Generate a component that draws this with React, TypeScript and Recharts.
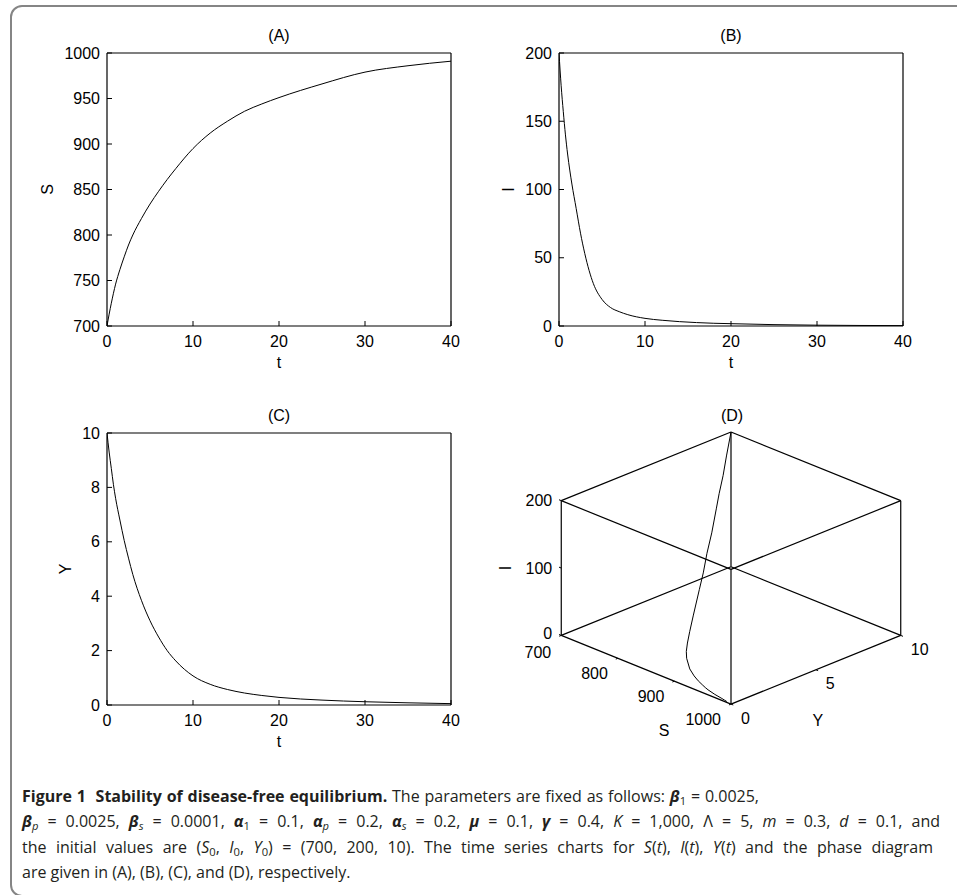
import React from "react";
import { LineChart, Line, XAxis, YAxis, ComposedChart, Scatter } from "recharts";

// time samples shared by the three time series
const tValues = [0, 0.25, 0.5, 0.75, 1, 1.5, 2, 2.5, 3, 4, 5, 6, 7, 8, 10, 12, 14, 16, 18, 20, 25, 30, 35, 40];
const sValues = [700, 713, 725, 736, 746, 762, 776, 789, 800, 818, 834, 848, 861, 873, 895, 912, 925, 936, 944, 951, 966, 979, 986, 991];
const iValues = [200, 176, 157, 140, 126, 104, 86, 68, 53, 31, 19.5, 13.5, 10.5, 8.3, 5.6, 4.2, 3.2, 2.5, 2, 1.7, 1, 0.6, 0.4, 0.3];
const yValues = [10, 9.3, 8.7, 8.1, 7.6, 6.8, 6.05, 5.4, 4.8, 3.85, 3.1, 2.5, 2.0, 1.62, 1.07, 0.76, 0.57, 0.44, 0.35, 0.28, 0.18, 0.12, 0.08, 0.05];

const tTicks = [0, 10, 20, 30, 40];
const sTicks = [700, 750, 800, 850, 900, 950, 1000];
const iTicks = [0, 50, 100, 150, 200];
const yTicks = [0, 2, 4, 6, 8, 10];

// phase diagram (D)
const sLimits = [700, 1000];
const yLimits = [0, 10];
const iLimits = [0, 200];
const sBoxTicks = [700, 800, 900, 1000];
const yBoxTicks = [0, 5, 10];
const iBoxTicks = [0, 100, 200];

const FONT = "'Liberation Sans', Arial, Helvetica, sans-serif";
const FS = 16;

// oblique view of the S-Y-I box
const SLOPE = 0.4;
const RISE = 0.785;
function project(s: number, i: number, y: number) {
  const sn = (s - sLimits[0]) / (sLimits[1] - sLimits[0]);
  const yn = (y - yLimits[0]) / (yLimits[1] - yLimits[0]);
  const inn = (i - iLimits[0]) / (iLimits[1] - iLimits[0]);
  return { u: sn + yn, v: SLOPE * (yn - sn) + RISE * inn };
}

function yTitle(text: string, gap: number) {
  return (props: any) => {
    const vb = props.viewBox;
    const cx = vb.x + vb.width - gap;
    const cy = vb.y + vb.height / 2;
    return (
      <text
        x={cx}
        y={cy}
        transform={`rotate(-90 ${cx} ${cy})`}
        textAnchor="middle"
        dominantBaseline="central"
        fontSize={FS}
        fontFamily={FONT}
        fill="#000"
      >
        {text}
      </text>
    );
  };
}

function TimePanel({ left, top, width, height, plot, values, domain, ticks, title, name, nameGap }: any) {
  const rows = tValues.map((t, k) => ({ t, v: values[k] }));
  const margin = {
    top: plot.y - top - 1,
    left: plot.x - left - 60,
    right: left + width - plot.x - plot.w - 1,
    bottom: top + height - plot.y - plot.h - 44,
  };
  const axisLine = { stroke: "#000", strokeWidth: 1.2 };
  const tickLine = { stroke: "#000", strokeWidth: 1 };
  const tick = { fill: "#000", fontSize: FS, fontFamily: FONT };

  return (
    <div style={{ position: "absolute", left, top }}>
      <LineChart width={width} height={height} data={rows} margin={margin}>
        <XAxis
          xAxisId="b"
          dataKey="t"
          type="number"
          domain={[0, 40]}
          ticks={tTicks}
          interval={0}
          allowDataOverflow
          height={44}
          axisLine={axisLine}
          tickLine={tickLine}
          tickSize={-5}
          tickMargin={15}
          tick={tick}
          label={{ value: "t", position: "insideBottom", offset: 2, fill: "#000", fontSize: FS, fontFamily: FONT }}
        />
        <XAxis
          xAxisId="top"
          orientation="top"
          dataKey="t"
          type="number"
          domain={[0, 40]}
          ticks={tTicks}
          interval={0}
          allowDataOverflow
          height={1}
          axisLine={axisLine}
          tickLine={tickLine}
          tickSize={-5}
          tick={false}
          label={{ value: title, position: "top", offset: 11, fill: "#000", fontSize: FS, fontFamily: FONT }}
        />
        <YAxis
          yAxisId="l"
          type="number"
          domain={domain}
          ticks={ticks}
          interval={0}
          allowDataOverflow
          width={60}
          axisLine={axisLine}
          tickLine={tickLine}
          tickSize={-5}
          tickMargin={12}
          tick={tick}
          label={{ content: yTitle(name, nameGap) }}
        />
        <YAxis
          yAxisId="r"
          orientation="right"
          type="number"
          domain={domain}
          ticks={ticks}
          interval={0}
          allowDataOverflow
          width={1}
          axisLine={axisLine}
          tickLine={tickLine}
          tickSize={-5}
          tick={false}
        />
        <Line
          xAxisId="top"
          yAxisId="r"
          dataKey="v"
          type="monotone"
          dot={false}
          stroke="none"
          isAnimationActive={false}
        />
        <Line
          xAxisId="b"
          yAxisId="l"
          dataKey="v"
          type="monotone"
          dot={false}
          stroke="#000"
          strokeWidth={1}
          isAnimationActive={false}
        />
      </LineChart>
    </div>
  );
}

function textShape(anchor: string, rotate = false) {
  return (p: any) => {
    const x = p.cx + p.payload.dx;
    const y = p.cy + p.payload.dy;
    return (
      <text
        x={x}
        y={y}
        textAnchor={anchor}
        dominantBaseline="central"
        fontSize={FS}
        fontFamily={FONT}
        fill="#000"
        transform={rotate ? `rotate(-90 ${x} ${y})` : undefined}
      >
        {p.payload.label}
      </text>
    );
  };
}

function PhasePanel() {
  const curve = tValues.map((_, k) => project(sValues[k], iValues[k], yValues[k]));

  const corners: number[][] = [];
  sLimits.forEach((s) => yLimits.forEach((y) => iLimits.forEach((i) => corners.push([s, y, i]))));
  const edges: any[] = [];
  corners.forEach((a, m) =>
    corners.forEach((b, n) => {
      if (n <= m) return;
      const diff = a.filter((val, k) => val !== b[k]).length;
      if (diff === 1) edges.push([project(a[0], a[2], a[1]), project(b[0], b[2], b[1])]);
    })
  );

  const tickMarks: any[] = [
    ...sBoxTicks.map((s) => [project(s, 0, yLimits[0]), project(s, 0, yLimits[0] - 0.12)]),
    ...yBoxTicks.map((y) => [project(sLimits[1], 0, y), project(sLimits[1] + 4, 0, y)]),
    ...iBoxTicks.map((i) => [project(sLimits[0], i, yLimits[0]), project(sLimits[0] - 4, i, yLimits[0])]),
  ];

  const sLabels = sBoxTicks.map((s, k) => ({
    ...project(s, 0, yLimits[0]),
    label: String(s),
    dx: -10,
    dy: k === 0 ? 17 : 15,
  }));
  const yLabels = yBoxTicks.map((y) => ({ ...project(sLimits[1], 0, y), label: String(y), dx: 10, dy: 14 }));
  const iLabels = iBoxTicks.map((i, k) => ({
    ...project(sLimits[0], i, yLimits[0]),
    label: String(i),
    dx: -9,
    dy: k === 0 ? -2 : 0,
  }));
  const titles = [
    { ...project(850, 0, 0), label: "S", dx: 18, dy: 61 },
    { ...project(1000, 0, 5), label: "Y", dx: 2, dy: 51 },
    { ...project(700, 200, 10), label: "(D)", dx: 1, dy: -17 },
  ];
  const iTitle = [{ ...project(700, 100, 0), label: "I", dx: -56, dy: 0 }];

  return (
    <div style={{ position: "absolute", left: 480, top: 400 }}>
      <ComposedChart width={477} height={360} margin={{ top: 32, left: 79, right: 54, bottom: 55 }}>
        <XAxis dataKey="u" type="number" domain={[0, 2]} hide />
        <YAxis dataKey="v" type="number" domain={[-SLOPE, SLOPE + RISE]} hide />
        {edges.map((e, k) => (
          <Line
            key={`e${k}`}
            data={e}
            dataKey="v"
            type="linear"
            dot={false}
            stroke="#000"
            strokeWidth={1.2}
            isAnimationActive={false}
          />
        ))}
        {tickMarks.map((e, k) => (
          <Line
            key={`k${k}`}
            data={e}
            dataKey="v"
            type="linear"
            dot={false}
            stroke="#000"
            strokeWidth={1}
            isAnimationActive={false}
          />
        ))}
        <Line data={curve} dataKey="v" type="linear" dot={false} stroke="#000" strokeWidth={1} isAnimationActive={false} />
        <Scatter data={sLabels} shape={textShape("end")} isAnimationActive={false} />
        <Scatter data={yLabels} shape={textShape("start")} isAnimationActive={false} />
        <Scatter data={iLabels} shape={textShape("end")} isAnimationActive={false} />
        <Scatter data={titles} shape={textShape("middle")} isAnimationActive={false} />
        <Scatter data={iTitle} shape={textShape("middle", true)} isAnimationActive={false} />
      </ComposedChart>
    </div>
  );
}

const G = ({ c }: { c: string }) => <b><i>{c}</i></b>;
const Sub = ({ children }: any) => (
  <span style={{ fontSize: "0.7em", verticalAlign: "-0.28em", lineHeight: 0 }}>{children}</span>
);

const lineStyle = (w: number): React.CSSProperties => ({
  width: w,
  textAlign: "justify",
  textAlignLast: "justify",
  height: 25.3,
  overflow: "visible",
});

export default function App() {
  return (
    <div
      style={{
        position: "absolute",
        left: 0,
        top: 0,
        width: 957,
        height: 895,
        overflow: "hidden",
        background: "#fff",
        fontFamily: FONT,
      }}
    >
      <div
        style={{
          position: "absolute",
          left: 10,
          top: 5,
          width: 980,
          height: 892,
          border: "2px solid #858585",
          borderRadius: 12,
          boxSizing: "border-box",
        }}
      />
      <TimePanel
        left={0}
        top={0}
        width={480}
        height={400}
        plot={{ x: 107, y: 53, w: 344, h: 273 }}
        values={sValues}
        domain={[700, 1000]}
        ticks={sTicks}
        title="(A)"
        name="S"
        nameGap={60}
      />
      <TimePanel
        left={480}
        top={0}
        width={477}
        height={400}
        plot={{ x: 559, y: 53, w: 344, h: 273 }}
        values={iValues}
        domain={[0, 200]}
        ticks={iTicks}
        title="(B)"
        name="I"
        nameGap={51}
      />
      <TimePanel
        left={0}
        top={400}
        width={480}
        height={360}
        plot={{ x: 107, y: 433, w: 344, h: 272 }}
        values={yValues}
        domain={[0, 10]}
        ticks={yTicks}
        title="(C)"
        name="Y"
        nameGap={42}
      />
      <PhasePanel />
      <div
        style={{
          position: "absolute",
          left: 22,
          top: 784,
          fontFamily: "'Open Sans', 'Noto Sans', sans-serif",
          fontSize: 16,
          lineHeight: "25.3px",
          color: "#231f20",
        }}
      >
        <div style={lineStyle(737)}>
          <b>Figure 1&nbsp;&nbsp;Stability of disease-free equilibrium.</b> The parameters are fixed as follows:{" "}
          <G c="β" />
          <Sub>1</Sub> = 0.0025,
        </div>
        <div style={lineStyle(918)}>
          <G c="β" />
          <Sub><i>p</i></Sub> = 0.0025, <G c="β" />
          <Sub><i>s</i></Sub> = 0.0001, <G c="α" />
          <Sub>1</Sub> = 0.1, <G c="α" />
          <Sub><i>p</i></Sub> = 0.2, <G c="α" />
          <Sub><i>s</i></Sub> = 0.2, <G c="μ" /> = 0.1, <G c="γ" /> = 0.4, <i>K</i> = 1,000, Λ = 5, <i>m</i> = 0.3,{" "}
          <i>d</i> = 0.1, and
        </div>
        <div style={lineStyle(911)}>
          the initial values are (<i>S</i>
          <Sub>0</Sub>, <i>I</i>
          <Sub>0</Sub>, <i>Y</i>
          <Sub>0</Sub>) = (700, 200, 10). The time series charts for <i>S</i>(<i>t</i>), <i>I</i>(<i>t</i>),{" "}
          <i>Y</i>(<i>t</i>) and the phase diagram
        </div>
        <div style={{ whiteSpace: "nowrap" }}>are given in (A), (B), (C), and (D), respectively.</div>
      </div>
    </div>
  );
}
